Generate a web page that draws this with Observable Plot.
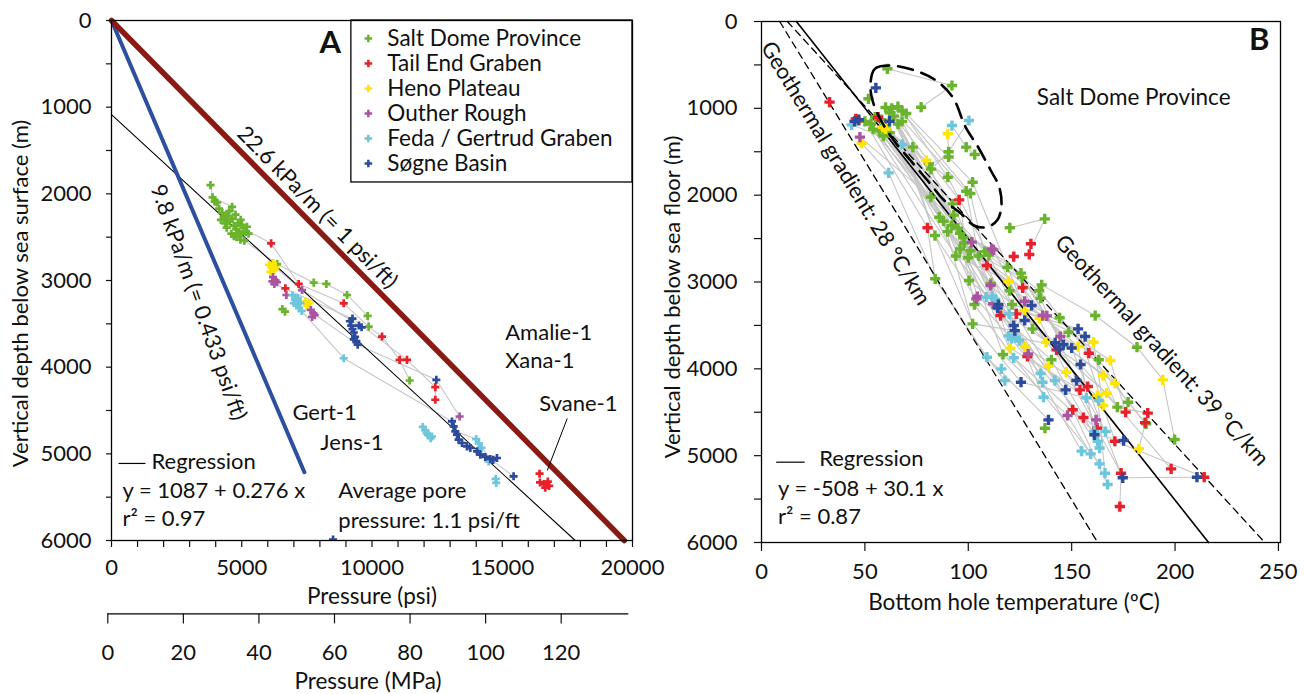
<!DOCTYPE html>
<html><head><meta charset="utf-8">
<script src="https://cdn.jsdelivr.net/npm/d3@7"></script>
<script src="https://cdn.jsdelivr.net/npm/@observablehq/plot@0.6"></script>
<style>
body{margin:0;background:#fff;}
#wrap{position:relative;width:1304px;height:694px;overflow:hidden;background:#fff;}
#wrap svg{position:absolute;top:0;}
</style></head><body><div id="wrap"></div>
<script>
// ---------- categories & colours ----------
const regions = ["Salt Dome Province","Tail End Graben","Heno Plateau","Outher Rough","Feda / Gertrud Graben","Søgne Basin"];
const regionColors = ["#6ab42d","#e8202a","#ffe500","#aa559f","#6ec6dc","#2c4b9c"];

// ---------- Panel A: pressure (psi) vs depth (m) ----------
const saltA = [[3800,1900],[3880,2040],[3960,2090],[4060,2100],[4130,2170],[4250,2220],[4320,2280],[4630,2150],[4430,2260],[4530,2320],[4640,2290],[4700,2370],[4790,2410],[4860,2340],[4900,2440],[4990,2460],[5060,2390],[5160,2440],[5260,2460],[4600,2460],[4800,2500],[4950,2530],[5100,2540],[4420,2390],[4520,2200],[4760,2240],[4960,2300],[5200,2380],[4360,2340],[4700,2490],[4200,2300],[5000,2360],[6357,2810],[6560,3330],[6660,3360],[7763,3025],[8249,3040],[9042,3167],[9833,3409],[9872,3532],[11445,4154]];
const tailA = [[6127,2572],[6676,3090],[7187,3040],[8914,3263],[10385,3647],[11062,3916],[11343,3916],[12430,4230],[12430,4376],[16432,5229],[16450,5330],[16600,5350],[16750,5320],[16650,5390],[16800,5370]];
const henoA = [[6050,2820],[6150,2850],[6250,2880],[6100,2900],[6200,2800],[6300,2850],[7443,3244],[7600,3260],[7500,3290]];
const outherA = [[6200,2960],[6300,3000],[6250,3040],[6350,3020],[6180,3010],[6714,3167],[7316,3110],[7650,3340],[7750,3380],[7700,3420],[7800,3400],[13363,4569]];
const fedaA = [[6950,3170],[7050,3220],[7100,3280],[7200,3320],[7000,3260],[7300,3350],[7150,3200],[7250,3260],[8914,3897],[11950,4690],[12050,4730],[12150,4780],[12250,4820],[12100,4760],[12300,4800],[14000,4830],[14100,4880],[14200,4930],[14100,4960],[14476,5087],[14771,5336],[14750,5290]];
const sogneA = [[9150,3470],[9200,3520],[9250,3560],[9300,3600],[9350,3650],[9400,3700],[9450,3740],[9300,3680],[9250,3440],[9500,3520],[9600,3540],[12469,4146],[13071,4626],[13135,4684],[13198,4741],[13263,4779],[13326,4837],[13455,4875],[13646,4914],[13773,4933],[14031,4972],[14157,5010],[14349,5036],[14541,5059],[14797,5048],[14650,5070],[15435,5259],[8505,5990]];
const wellsA = [
 [[3800,1900],[3880,2040],[4630,2150],[4860,2340]],
 [[4320,2280],[6127,2572],[7187,3040],[8914,3263],[9872,3532]],
 [[5100,2540],[6357,2810],[7763,3025],[8249,3040],[9042,3167],[9833,3409],[9872,3532],[10385,3647],[11062,3916],[11445,4154]],
 [[6300,2850],[7316,3110],[9500,3520]],
 [[6250,3040],[9250,3440],[11343,3916],[12430,4230],[12430,4376]],
 [[7200,3320],[8914,3897],[13071,4626]],
 [[7750,3380],[9450,3740],[12469,4146],[13363,4569],[13071,4626]],
 [[13455,4875],[14100,4960],[15435,5259]],
 [[13200,4740],[14000,4830],[14541,5059]]
];
const lithostatic = [[0,0],[19685,6000]];      // 22.6 kPa/m = 1 psi/ft
const hydrostatic = [[0,0],[7404,5212]];       // 9.8 kPa/m = 0.433 psi/ft
const regressionA = {a:1087, b:0.276};          // depth = a + b * psi
const psiTicks = d3.range(0,20001,1000);
const mpaTicks = [0,20,40,60,80,100,120];
const PSI_PER_MPA = 145.038;

// ---------- Panel B: temperature (°C) vs depth (m) ----------
const saltB = [[60.9,545],[92.1,737],[51.7,890],[60,990],[63,1000],[66,980],[68,1030],[70,1060],[62,1050],[64,1090],[77.2,987],[55,1100],[58,1130],[50,1150],[53,1180],[60,1200],[66,1180],[68,1150],[57,1260],[62,1280],[59,1320],[54,1240],[73.2,1447],[99.0,1447],[103.1,1532],[90.5,1500],[90.5,1560],[81,1640],[82,1700],[90.1,1793],[102.1,1851],[99.0,1954],[101,1980],[81.9,2023],[92.5,2100],[86.0,2254],[137.0,2273],[120.1,2376],[88,2300],[92,2350],[95,2380],[90,2420],[96,2440],[83.9,2465],[97.5,2490],[93,2230],[98,2550],[96,2620],[101,2640],[105,2700],[108,2650],[94,2700],[100,2720],[110,2690],[119,2830],[125.5,2898],[84.0,2963],[100.4,2983],[110.9,3017],[135.5,3033],[135.0,3187],[126,2950],[134.3,3100],[120,3100],[103,3260],[121.2,3260],[102.1,3482],[131.1,3540],[144.2,3412],[161.4,3386],[148.5,3578],[181.6,3751],[116.8,3835],[140.2,3896],[163.1,3896],[172.1,4441],[177.3,4384],[186,4633],[137.1,4684],[199.8,4814]];
const tailB = [[32.9,929],[45.6,1121],[47,1140],[56.4,1102],[95.6,2054],[80.3,2376],[130.3,2560],[129.5,2683],[122.0,2707],[109.0,2810],[126.3,3067],[115.6,3386],[123.2,3367],[142.7,3782],[128.6,3858],[158.3,3820],[157.8,4204],[154.0,4242],[150.5,4472],[155.7,4561],[176.1,4499],[186.8,4510],[185.5,4620],[162.3,4684],[170.9,4834],[198.1,5152],[173.9,5202],[214.1,5248],[173.3,5586]];
const henoB = [[58.8,1217],[60,1240],[48.4,1402],[90.1,1293],[79.8,1601],[119.4,2994],[127.3,3328],[134.5,3420],[137.6,3693],[160.6,3693],[153.1,3743],[120.3,3762],[127.5,3743],[138.8,3970],[168.7,3904],[194.1,4127],[147.4,4039],[165.2,4077],[170.9,4166],[162.5,4307],[166.9,4281],[165.2,4422],[182.5,4921]];
const outherB = [[47.6,1332],[101.7,2541],[111.3,2618],[112.2,2630],[110.8,3040],[104.4,3167],[103.9,3194],[112,3250],[127.3,3222],[136,3386],[138,3390],[144.5,3628],[129,3830],[148,4537],[161.8,4588]];
const fedaB = [[43.6,1190],[100.3,1140],[92.1,1198],[68.0,1416],[61.5,1743],[108.7,3175],[111.6,3167],[113,3200],[119.8,3367],[119.5,3620],[121,3650],[123,3640],[124.6,3674],[109.0,3866],[122.0,3873],[116.0,4000],[117.7,4135],[135,4054],[135.9,4154],[141.9,4135],[136.4,4327],[157.1,4334],[163.1,4365],[160.9,4722],[166.4,4722],[162.6,4834],[163.5,4912],[154.8,4948],[159.2,4979],[163.5,5095],[166.1,5202],[167.4,5332]];
const sogneB = [[55.3,764],[45,1150],[47,1130],[61.9,1148],[114.6,3260],[114.2,3300],[130.6,3270],[127.3,3443],[122.0,3501],[122.5,3560],[153.1,3540],[156.5,3628],[142,3700],[146,3720],[150,3760],[144,3770],[154.3,3950],[125.5,4154],[152.3,4135],[147.1,4242],[138.8,4588],[161,4760],[175.1,4826],[174.7,5255],[210.6,5248]];
const wellsB = [
 [[55,1100],[86,2254],[110.8,3040],[142,3700]],
 [[58,1130],[90,2420],[119.4,2994],[137.6,3693],[157.8,4204]],
 [[60,1200],[93,2230],[104.4,3167],[122,3501],[136.4,4327]],
 [[62,1050],[96,2440],[112.2,2630],[127.3,3328],[160.6,3693],[165.2,4422]],
 [[50,1150],[80.3,2376],[84,2963],[109,3866],[117.7,4135]],
 [[53,1180],[88,2300],[100.4,2983],[119.8,3367],[135.9,4154],[154.8,4948]],
 [[57,1260],[98,2550],[113,3200],[141.9,4135],[163.5,4912]],
 [[47.6,1332],[81.9,2023],[101.7,2541],[114.6,3260],[153.1,3540],[170.9,4834],[214.1,5248]],
 [[63,1000],[99,1954],[105,2700],[126.3,3067],[147.4,4039],[173.9,5202],[173.3,5586]],
 [[66,980],[101,1980],[109,2810],[127.5,3743],[162.5,4307],[166.1,5202]],
 [[68,1030],[90.1,1793],[110,2690],[123.2,3367],[150.5,4472],[167.4,5332]],
 [[70,1060],[102.1,1851],[119,2830],[131.1,3540],[166.9,4281],[198.1,5152]],
 [[64,1090],[95.6,2054],[100,2720],[116.8,3835],[148,4537],[159.2,4979]],
 [[45.6,1121],[73.2,1447],[92.5,2100],[103,3260],[122,3873],[160.9,4722]],
 [[43.6,1190],[68,1416],[83.9,2465],[102.1,3482],[125.5,4154],[163.1,4365]],
 [[48.4,1402],[61.5,1743],[84,2963],[109,3866],[138.8,4588]],
 [[58.8,1217],[79.8,1601],[97.5,2490],[115.6,3386],[140.2,3896],[162.6,4834]],
 [[60.9,545],[92.1,737],[77.2,987]],
 [[92.1,1198],[99,1447],[103.1,1532]],
 [[100.3,1140],[90.5,1500],[82,1700]],
 [[90.1,1293],[90.5,1560],[81,1640],[90.1,1793]],
 [[120.1,2376],[137,2273],[128.8,2695]],
 [[135.5,3033],[161.4,3386],[181.6,3751],[194.1,4127],[199.8,4814]],
 [[144.2,3412],[163.1,3896],[177.3,4384],[186,4633]],
 [[148.5,3578],[168.7,3904],[176.1,4499]],
 [[154.3,3950],[172.1,4441],[186.8,4510],[182.5,4921]],
 [[173.9,5202],[174.7,5255],[210.6,5248],[214.1,5248]],
 [[155.7,4561],[162.3,4684],[161,4760],[175.1,4826]],
 [[121.2,3260],[138,3390],[144.5,3628],[153.1,3743]],
 [[62,1280],[96,2620],[110.9,3017],[120.3,3762],[154,4242]],
 [[54,1240],[94,2700],[112,3250],[128.6,3858],[157.1,4334],[166.4,4722]],
 [[59,1320],[108,2650],[135,3187],[152.3,4135],[162.3,4684]],
 [[66,1180],[101,2640],[126,2950],[146,3720],[165.2,4077]],
 [[56.4,1102],[95,2380],[134.3,3100],[158.3,3820],[185.5,4620]],
 [[60,990],[92,2350],[121.2,3260],[144,3770]],
 [[63,1000],[88,2300],[102.1,3482],[122.5,3560],[147.1,4242]],
 [[68,1150],[96,2440],[120,3100],[142.7,3782]],
 [[66,1180],[83.9,2465],[103.9,3194],[119.5,3620],[135,4054]],
 [[62,1050],[90,2420],[110.9,3017],[129,3830],[155.7,4561]],
 [[55,1100],[95,2380],[125.5,2898],[146,3720],[170.9,4166]],
 [[58,1130],[92.5,2100],[113,3200],[123,3640],[150,3760]],
 [[64,1090],[98,2550],[130.6,3270],[156.5,3628],[172.1,4441]],
 [[60,1200],[94,2700],[126.3,3067],[150,3760],[174.7,5255]],
 [[57,1260],[101,2640],[127.3,3222],[153.1,3743],[161,4760]],
 [[53,1180],[86,2254],[108.7,3175],[122,3873],[163.5,5095]],
 [[50,1150],[81.9,2023],[96,2620],[114.2,3300],[154.3,3950]]
];
const geo28 = [[8.8,0],[162.6,6000]];
const geo39 = [[12.5,0],[243.4,6000]];
const regressionB = {a:-508, b:30.1};           // depth = a + b * T
const saltOutline = [[52.7,717],[54.8,545],[61.9,507],[74.2,564],[84.4,679],[92.5,872],[98.7,1217],[104.8,1448],[110.9,1716],[115.0,1908],[116.0,2139],[113.9,2292],[108.9,2369],[102.7,2349],[96.6,2215],[88.4,2061],[80.3,1831],[72.1,1601],[64.0,1370],[57.8,1140],[53.7,910]];
const tempTicks = [0,50,100,150,200,250];
const depthTicks = d3.range(0,6001,500);

// ---------- annotation text (positions in data units) ----------
const notesA = [
 {x:15116,y:3600,t:"Amalie-1"},{x:15116,y:3923,t:"Xana-1"},{x:16421,y:4419,t:"Svane-1"},
 {x:6944,y:4523,t:"Gert-1"},{x:8018,y:4869,t:"Jens-1"},
 {x:8709,y:5423,t:"Average pore"},{x:8709,y:5769,t:"pressure: 1.1 psi/ft"},
 {x:1535,y:5090,t:"Regression"},{x:422,y:5423,t:"y = 1087 + 0.276 x"},{x:422,y:5757,t:"r² = 0.97"}
];
const svaneLeader = [{x1:17495,y1:4592,x2:16728,y2:5192}];
const regKeyA = [{x1:269,x2:1304,y:5111}];
const legendBox = [{x1:9208,x2:20000,y1:0,y2:1869}];
const legendRows = regions.map((r,i)=>({region:r, y:208+i*288.5}));
const notesB = [
 {x:27.9,y:5036,t:"Regression"},
 {x:8.0,y:5382,t:"y = -508 + 30.1 x"},
 {x:8.0,y:5709,t:"r² = 0.87"}
];
const regKeyB = [{x1:7.1,x2:20.9,y:5075}];

const FONT = "Lato, 'Open Sans', sans-serif";
const toRows = (series) => series.flatMap((s,i)=>s.map(([x,y])=>({x,y,region:regions[i]})));
const wellRows = (wells) => wells.flatMap((w,i)=>w.map(([x,y])=>({x,y,well:i})));
const X = d=>d[0], Y = d=>d[1];

// ---------- Panel A ----------
const rowsA = toRows([saltA,tailA,henoA,outherA,fedaA,sogneA]);
const regLineA = [[0,regressionA.a],[(6000-regressionA.a)/regressionA.b,6000]];
const plotA = Plot.plot({
  width:660, height:694, marginLeft:111, marginRight:28, marginTop:20, marginBottom:154,
  x:{domain:[0,20000]}, y:{domain:[0,6000], reverse:true},
  color:{domain:regions, range:regionColors},
  style:{fontFamily:FONT, fontSize:"22px", background:"transparent", overflow:"visible", color:"#111"},
  marks:[
    Plot.line(wellRows(wellsA), {x:"x", y:"y", z:"well", stroke:"#c6c6c6", strokeWidth:1.1}),
    Plot.line(regLineA, {x:X, y:Y, stroke:"#000", strokeWidth:1.1}),
    Plot.line(hydrostatic, {x:X, y:Y, stroke:"#2d4fa0", strokeWidth:4}),
    Plot.line(lithostatic, {x:X, y:Y, stroke:"#8a1b14", strokeWidth:5.5}),
    Plot.dot(rowsA, {x:"x", y:"y", fill:"region", symbol:"cross", r:3.4, clip:true}),
    Plot.text(["22.6 kPa/m (= 1 psi/ft)"], {x:()=>7903, y:()=>2158, rotate:45.4, fontSize:22}),
    Plot.text(["9.8 kPa/m (= 0.433 psi/ft)"], {x:()=>3338, y:()=>3254, rotate:70.5, fontSize:22}),
    Plot.text(["A"], {x:()=>8402, y:()=>260, fontSize:31, fontWeight:"bold"}),
    Plot.text(notesA, {x:"x", y:"y", text:"t", textAnchor:"start", fontSize:22}),
    Plot.link(svaneLeader, {x1:"x1", y1:"y1", x2:"x2", y2:"y2", stroke:"#000", strokeWidth:1}),
    Plot.link(regKeyA, {x1:"x1", x2:"x2", y1:"y", y2:"y", stroke:"#000", strokeWidth:1.2}),
    Plot.rect(legendBox, {x1:"x1", x2:"x2", y1:"y1", y2:"y2", fill:"white", stroke:"#000", strokeWidth:1.3}),
    Plot.dot(legendRows, {x:()=>9860, y:"y", fill:"region", symbol:"cross", r:3.2}),
    Plot.text(legendRows, {x:()=>10589, y:"y", text:"region", textAnchor:"start", fontSize:22.5}),
    Plot.frame({stroke:"#000", strokeWidth:1.3}),
    Plot.axisX({ticks:psiTicks, tickFormat:d=>d%5000?"":String(d), tickSize:7, tickPadding:12, label:null, strokeWidth:1.2}),
    Plot.ruleY([6000], {x1:0, x2:20000, dy:73.4, dx:-3.7, stroke:"#000", strokeWidth:1.3}),
    Plot.axisX({ticks:mpaTicks.map(m=>m*PSI_PER_MPA), tickFormat:d=>String(Math.round(d/PSI_PER_MPA)), tickSize:10, tickPadding:20, dy:73.4, dx:-3.7, label:null, strokeWidth:1.2}),
    Plot.axisY({ticks:depthTicks, tickFormat:d=>d%1000?"":String(d), tickSize:5, tickPadding:15, label:null, strokeWidth:1.2}),
    Plot.text(["Pressure (psi)"], {frameAnchor:"bottom", lineAnchor:"middle", textAnchor:"middle", dy:56, fontSize:22.5}),
    Plot.text(["Pressure (MPa)"], {frameAnchor:"bottom", lineAnchor:"middle", textAnchor:"middle", dy:141, dx:-4, fontSize:22.5}),
    Plot.text(["Vertical depth below sea surface (m)"], {frameAnchor:"left", textAnchor:"middle", lineAnchor:"middle", rotate:-90, dx:-91, dy:13, fontSize:22})
  ]
});
plotA.style.left = "0px";

// ---------- Panel B ----------
const rowsB = toRows([saltB,tailB,henoB,outherB,fedaB,sogneB]);
const regLineB = [[(0-regressionB.a)/regressionB.b,0],[(6000-regressionB.a)/regressionB.b,6000]];
const plotB = Plot.plot({
  width:664, height:620, marginLeft:121, marginRight:24, marginTop:21, marginBottom:78,
  x:{domain:[0,251]}, y:{domain:[0,6000], reverse:true},
  color:{domain:regions, range:regionColors},
  style:{fontFamily:FONT, fontSize:"22px", background:"transparent", overflow:"visible", color:"#111"},
  marks:[
    Plot.line(wellRows(wellsB), {x:"x", y:"y", z:"well", stroke:"#c6c6c6", strokeWidth:1.1}),
    Plot.line(geo28, {x:X, y:Y, stroke:"#000", strokeWidth:1.3, strokeDasharray:"7,5"}),
    Plot.line(geo39, {x:X, y:Y, stroke:"#000", strokeWidth:1.3, strokeDasharray:"7,5"}),
    Plot.line(regLineB, {x:X, y:Y, stroke:"#000", strokeWidth:1.6}),
    Plot.dot(rowsB, {x:"x", y:"y", fill:"region", symbol:"cross", r:4.3}),
    Plot.line(saltOutline, {x:X, y:Y, curve:"catmull-rom-closed", stroke:"#000", strokeWidth:2.6, strokeDasharray:"15,9"}),
    Plot.text(["Geothermal gradient: 28 °C/km"], {x:()=>40.6, y:()=>1750, rotate:58.6, fontSize:22}),
    Plot.text(["Geothermal gradient: 39 °C/km"], {x:()=>193.5, y:()=>3789, rotate:47.5, fontSize:22}),
    Plot.text(["B"], {x:()=>240.7, y:()=>215, fontSize:31, fontWeight:"bold"}),
    Plot.text(["Salt Dome Province"], {x:()=>180, y:()=>875, textAnchor:"middle", fontSize:22.5}),
    Plot.text(notesB, {x:"x", y:"y", text:"t", textAnchor:"start", fontSize:22}),
    Plot.link(regKeyB, {x1:"x1", x2:"x2", y1:"y", y2:"y", stroke:"#000", strokeWidth:1.2}),
    Plot.frame({stroke:"#000", strokeWidth:1.3}),
    Plot.axisX({ticks:tempTicks, tickSize:9, tickPadding:12, label:null, strokeWidth:1.2}),
    Plot.axisY({ticks:depthTicks, tickFormat:d=>d%1000?"":String(d), tickSize:7, tickPadding:17, label:null, strokeWidth:1.2}),
    Plot.text(["Bottom hole temperature (ºC)"], {frameAnchor:"bottom", lineAnchor:"middle", textAnchor:"middle", dy:60, dx:-7, fontSize:22.5}),
    Plot.text(["Vertical depth below sea floor (m)"], {frameAnchor:"left", textAnchor:"middle", lineAnchor:"middle", rotate:-90, dx:-89, dy:15, fontSize:22})
  ]
});
plotB.style.left = "640px";

const wrap = document.getElementById("wrap");
wrap.appendChild(plotA);
wrap.appendChild(plotB);
</script>
</body></html>
